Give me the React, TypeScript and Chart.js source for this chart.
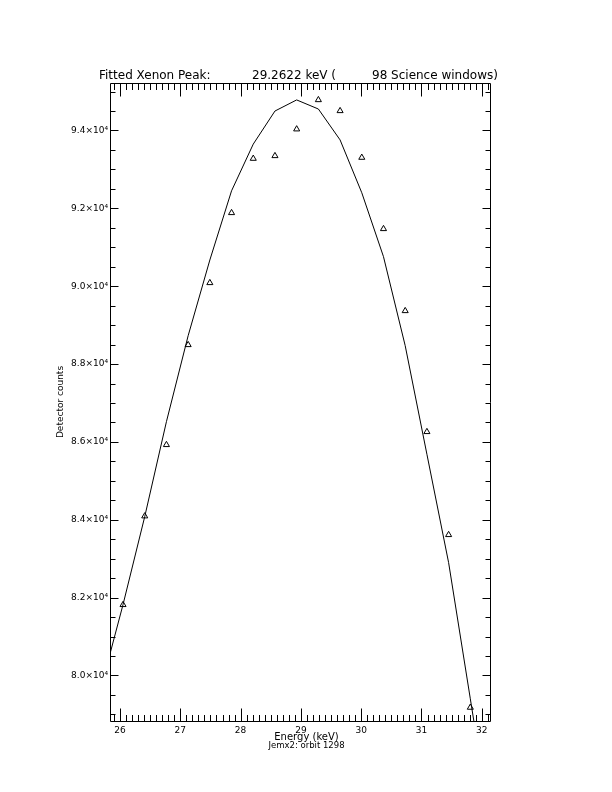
import React, { useEffect, useRef } from "react";
import { Chart, registerables } from "chart.js";

Chart.register(...registerables);

// ---- data ----
const pointEnergy = [26.05, 26.41, 26.77, 27.13, 27.49, 27.85, 28.21, 28.57, 28.93, 29.29, 29.65, 30.01, 30.37, 30.73, 31.09, 31.45, 31.81];
const pointCounts = [81815, 84093, 85925, 88493, 90086, 91884, 93279, 93348, 94034, 94786, 94504, 93305, 91473, 89366, 86259, 83613, 79177];

const fitEnergy = [25.69, 26.05, 26.41, 26.77, 27.13, 27.49, 27.85, 28.21, 28.57, 28.93, 29.29, 29.65, 30.01, 30.37, 30.73, 31.09, 31.45, 31.81, 32.17];
const fitCounts = [79714, 81820, 84079, 86520, 88728, 90673, 92450, 93650, 94500, 94785, 94552, 93758, 92400, 90758, 88472, 85682, 82898, 79400, 75900];

const xTickValues = [26, 27, 28, 29, 30, 31, 32];
const yTickValues = [80000, 82000, 84000, 86000, 88000, 90000, 92000, 94000];

const X_MIN = 25.834;
const X_MAX = 32.153;
const X_MAJOR = 1;
const X_MINOR = 0.1;
const Y_MIN = 78830;
const Y_MAX = 95220;
const Y_MAJOR = 2000;
const Y_MINOR = 500;

const titleParts = ["Fitted Xenon Peak:", "29.2622 keV (", "98 Science windows)"];
const xTitle = "Energy (keV)";
const xSubtitle = "Jemx2: orbit 1298";
const yTitle = "Detector counts";

const FONT = '"DejaVu Sans", sans-serif';

const idlFrame = {
  id: "idlFrame",
  afterDraw(chart: any) {
    const { ctx, chartArea: a, scales } = chart;
    const xs = scales.x;
    const ys = scales.y;
    ctx.save();
    ctx.strokeStyle = "#000";
    ctx.lineWidth = 1;
    const L = Math.round(a.left) + 0.5;
    const R = Math.round(a.right) - 0.5;
    const T = Math.round(a.top) + 0.5;
    const B = Math.round(a.bottom) + 0.5;
    ctx.beginPath();
    ctx.moveTo(L, T); ctx.lineTo(R, T); ctx.lineTo(R, B); ctx.lineTo(L, B); ctx.closePath();
    // x ticks
    const xn = Math.round(X_MAJOR / X_MINOR);
    for (let i = Math.ceil(X_MIN / X_MINOR - 1e-6); i <= Math.floor(X_MAX / X_MINOR + 1e-6); i++) {
      const v = i * X_MINOR;
      const px = Math.round(xs.getPixelForValue(v)) + 0.5;
      const len = i % xn === 0 ? 13 : 6.5;
      ctx.moveTo(px, B); ctx.lineTo(px, B - len);
      ctx.moveTo(px, T); ctx.lineTo(px, T + len);
    }
    // y ticks
    const yn = Math.round(Y_MAJOR / Y_MINOR);
    for (let i = Math.ceil(Y_MIN / Y_MINOR); i <= Math.floor(Y_MAX / Y_MINOR); i++) {
      const v = i * Y_MINOR;
      const py = Math.round(ys.getPixelForValue(v)) + 0.5;
      const len = i % yn === 0 ? 8 : 5;
      ctx.moveTo(L, py); ctx.lineTo(L + len, py);
      ctx.moveTo(R, py); ctx.lineTo(R - len, py);
    }
    ctx.stroke();

    // texts
    ctx.fillStyle = "#000";
    ctx.textBaseline = "alphabetic";
    ctx.textAlign = "left";
    ctx.font = `12px ${FONT}`;
    const titleX = [99, 252, 372];
    titleParts.forEach((t, i) => ctx.fillText(t, titleX[i], 79));

    ctx.textAlign = "center";
    const cx = (a.left + a.right) / 2 + 6;
    ctx.font = `10px ${FONT}`;
    ctx.fillText(xTitle, cx, 739.5);
    ctx.font = `8.5px ${FONT}`;
    ctx.fillText(xSubtitle, cx, 747.5);

    ctx.translate(63, (a.top + a.bottom) / 2);
    ctx.rotate(-Math.PI / 2);
    ctx.font = `9px ${FONT}`;
    ctx.fillText(yTitle, 0, 0);
    ctx.restore();
  },
};

export default function App() {
  const ref = useRef<HTMLCanvasElement | null>(null);
  useEffect(() => {
    if (!ref.current) return;
    const tickFont = { family: FONT, size: 9 };
    const chart = new Chart(ref.current, {
      type: "scatter",
      data: {
        datasets: [
          {
            data: fitEnergy.map((x, i) => ({ x, y: fitCounts[i] })),
            showLine: true,
            borderColor: "#000",
            borderWidth: 1,
            pointRadius: 0,
            tension: 0,
            fill: false,
          },
          {
            data: pointEnergy.map((x, i) => ({ x, y: pointCounts[i] })),
            showLine: false,
            pointStyle: "triangle",
            pointRadius: 3.5,
            borderColor: "#000",
            backgroundColor: "rgba(0,0,0,0)",
            borderWidth: 1,
          },
        ],
      },
      options: {
        animation: false,
        responsive: false,
        events: [],
        layout: { padding: { top: 83, right: 121, left: 0, bottom: 0 } },
        plugins: { legend: { display: false }, tooltip: { enabled: false }, title: { display: false } },
        scales: {
          x: {
            type: "linear",
            position: "bottom",
            min: X_MIN,
            max: X_MAX,
            afterFit: (s: any) => { s.height = 71; },
            afterBuildTicks: (s: any) => { s.ticks = xTickValues.map((v) => ({ value: v })); },
            grid: { display: false, drawTicks: false, tickLength: 0 },
            border: { display: false },
            ticks: {
              autoSkip: false,
              maxRotation: 0,
              padding: 4,
              color: "#000",
              font: tickFont,
              callback: (v: any) => String(v),
            },
          },
          y: {
            type: "linear",
            position: "left",
            min: Y_MIN,
            max: Y_MAX,
            afterFit: (s: any) => { s.width = 110; },
            afterBuildTicks: (s: any) => { s.ticks = yTickValues.map((v) => ({ value: v })); },
            grid: { display: false, drawTicks: false, tickLength: 0 },
            border: { display: false },
            ticks: {
              autoSkip: false,
              padding: 2,
              color: "#000",
              font: tickFont,
              callback: (v: any) => (Number(v) / 1e4).toFixed(1) + "×10⁴",
            },
          },
        },
      },
      plugins: [idlFrame],
    } as any);
    return () => chart.destroy();
  }, []);
  return (
    <div style={{ position: "absolute", left: 0, top: 0, width: 612, height: 792, background: "#fff" }}>
      <canvas ref={ref} width={612} height={792} style={{ width: 612, height: 792, display: "block" }} />
    </div>
  );
}
